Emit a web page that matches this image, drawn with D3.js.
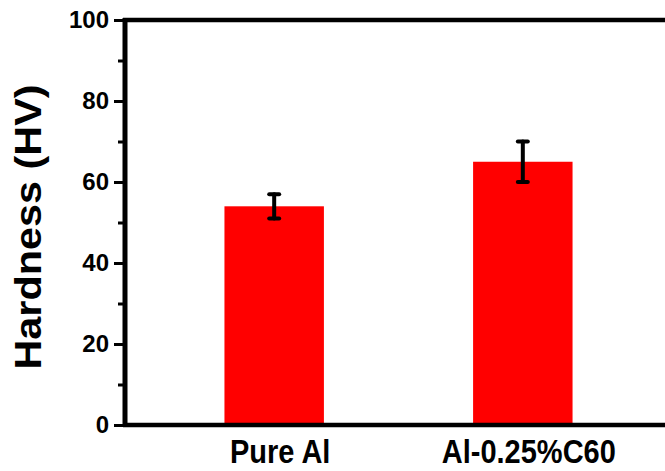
<!DOCTYPE html>
<html>
<head>
<meta charset="utf-8">
<script src="https://cdn.jsdelivr.net/npm/d3@7"></script>
<style>
  html, body { margin: 0; padding: 0; background: #fff; }
  svg { display: block; font-family: "Liberation Sans", Arial, sans-serif; font-weight: bold; }
</style>
</head>
<body>
<div id="chart"></div>
<script>
var categories = ['Pure Al', 'Al-0.25%C60'];
var hardness = [54, 65];
var errors = [3, 5];
var yTicks = [0, 20, 40, 60, 80, 100];
var yMinorTicks = [10, 30, 50, 70, 90];

var width = 665, height = 471;
var plotLeft = 125, plotTop = 20, plotBottom = 425;

var svg = d3.select('#chart')
  .append('svg')
    .attr('width', width)
    .attr('height', height);

var x = d3.scaleLinear()
  .domain([0.4, 2.6])
  .range([plotLeft, 672]);

var y = d3.scaleLinear()
  .domain([0, 100])
  .range([plotBottom, plotTop]);

var barW = x(1.2) - x(0.8);

// bars
svg.selectAll('rect.bar')
    .data(hardness)
    .enter()
  .append('rect')
    .attr('class', 'bar')
    .attr('x', function (d, i) { return x(i + 1) - barW / 2; })
    .attr('y', function (d) { return y(d); })
    .attr('width', barW)
    .attr('height', function (d) { return y(0) - y(d); })
    .attr('fill', '#ff0000');

// error bars
var err = svg.selectAll('g.err')
    .data(hardness)
    .enter()
  .append('g')
    .attr('stroke', '#000')
    .attr('stroke-width', 4)
    .attr('stroke-linecap', 'round');

err.append('line')
    .attr('x1', function (d, i) { return x(i + 1); })
    .attr('x2', function (d, i) { return x(i + 1); })
    .attr('y1', function (d, i) { return y(d - errors[i]); })
    .attr('y2', function (d, i) { return y(d + errors[i]); });

[-1, 1].forEach(function (s) {
  err.append('line')
      .attr('x1', function (d, i) { return x(i + 1) - 5; })
      .attr('x2', function (d, i) { return x(i + 1) + 5; })
      .attr('y1', function (d, i) { return y(d + s * errors[i]); })
      .attr('y2', function (d, i) { return y(d + s * errors[i]); });
});

// y axis
var yAxis = svg.append('g')
    .attr('transform', 'translate(' + plotLeft + ',0)')
    .call(d3.axisLeft(y).tickValues(yTicks).tickSize(11).tickPadding(5));

yAxis.select('.domain').remove();
yAxis.selectAll('.tick line').attr('stroke', '#000').attr('stroke-width', 3);
yAxis.selectAll('.tick text')
    .attr('fill', '#000')
    .style('font-size', '24px')
    .style('font-weight', 'bold')
    .style('font-family', '"Liberation Sans", Arial, sans-serif');

svg.append('g')
    .attr('transform', 'translate(' + plotLeft + ',0)')
    .call(d3.axisLeft(y).tickValues(yMinorTicks).tickSize(7).tickFormat(''))
    .call(function (g) { g.select('.domain').remove(); })
    .selectAll('.tick line').attr('stroke', '#000').attr('stroke-width', 3);

// frame lines
svg.append('line')
    .attr('x1', plotLeft).attr('x2', plotLeft)
    .attr('y1', plotTop - 2).attr('y2', plotBottom + 2)
    .attr('stroke', '#000').attr('stroke-width', 5);

svg.append('line')
    .attr('x1', plotLeft - 2).attr('x2', width)
    .attr('y1', plotTop).attr('y2', plotTop)
    .attr('stroke', '#000').attr('stroke-width', 4.5);

svg.append('line')
    .attr('x1', plotLeft - 2).attr('x2', width)
    .attr('y1', plotBottom).attr('y2', plotBottom)
    .attr('stroke', '#000').attr('stroke-width', 4.5);

// category labels
svg.selectAll('text.cat')
    .data(categories)
    .enter()
  .append('text')
    .attr('class', 'cat')
    .attr('transform', function (d, i) {
      return 'translate(' + (x(i + 1) + 6) + ',463) scale(1,1.15)';
    })
    .attr('text-anchor', 'middle')
    .style('font-size', '29px')
    .text(function (d) { return d; });

// y title
svg.append('text')
    .attr('transform', 'translate(41,227) rotate(-90)')
    .attr('text-anchor', 'middle')
    .style('font-size', '36px')
    .attr('textLength', 285)
    .attr('lengthAdjust', 'spacingAndGlyphs')
    .text('Hardness (HV)');
</script>
</body>
</html>
